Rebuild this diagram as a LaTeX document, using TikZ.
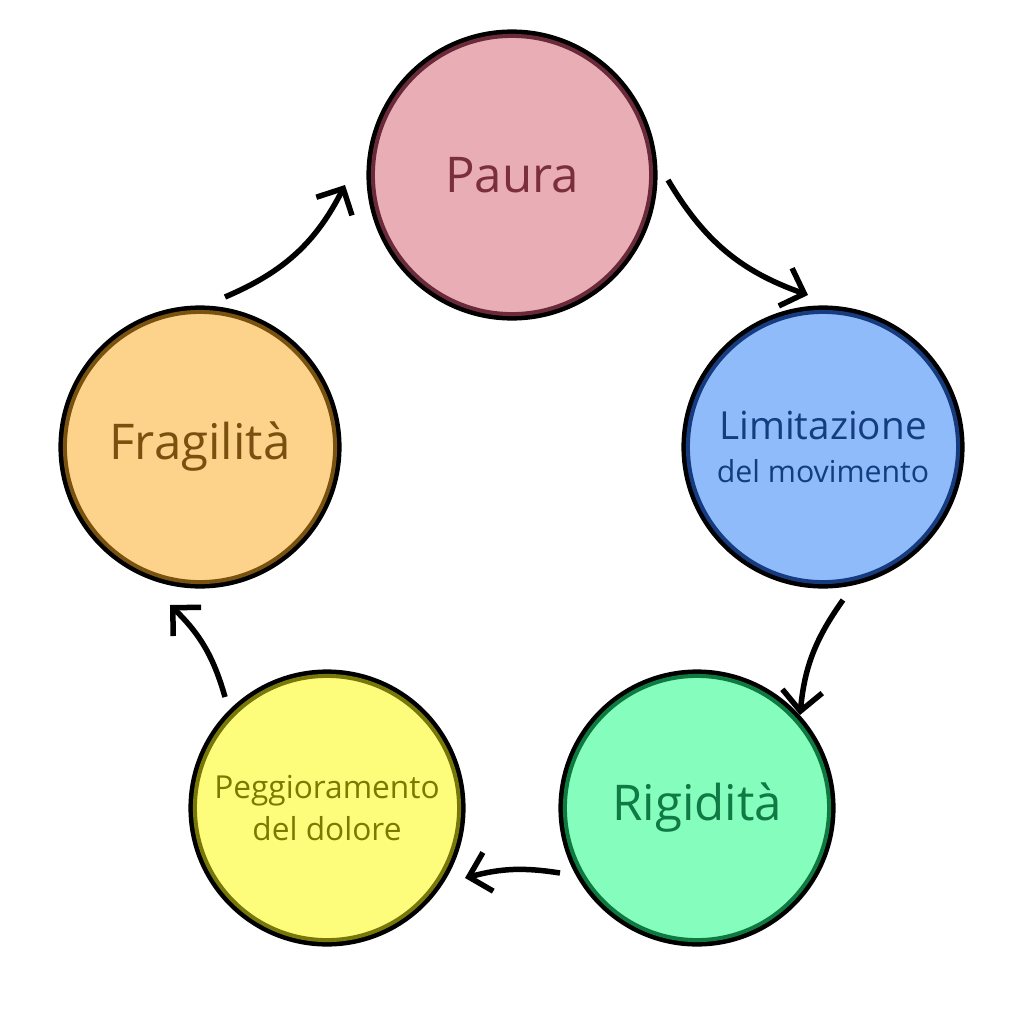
\documentclass[tikz,border=0pt]{standalone}
\usepackage{fontspec}
\setmainfont{Open Sans}
\usetikzlibrary{arrows.meta}
\begin{document}
\begin{tikzpicture}[x=0.01cm,y=-0.01cm,
  circ/.style={circle,minimum size=#1,inner sep=0pt,line width=0.045cm,align=center,
    double distance=0pt},
  arr/.style={line width=0.055cm,-{Straight Barb[length=0.2cm,width=0.4cm,line width=0.055cm]}}]
\useasboundingbox (0,0) rectangle (1024,1024);
\definecolor{pf}{HTML}{E9AEB5}\definecolor{pd}{HTML}{6B2A3A}\definecolor{pt}{HTML}{7A2E3E}
\definecolor{lf}{HTML}{8FBBFB}\definecolor{ld}{HTML}{163C7F}\definecolor{lt}{HTML}{143C80}
\definecolor{rf}{HTML}{84FDBD}\definecolor{rd}{HTML}{0E7A40}\definecolor{rt}{HTML}{107A44}
\definecolor{gf}{HTML}{FEFD7B}\definecolor{gd}{HTML}{77770A}\definecolor{gt}{HTML}{7A7A00}
\definecolor{ff}{HTML}{FDD38B}\definecolor{fd}{HTML}{7A5210}\definecolor{ft}{HTML}{7A5010}
\node[circle,minimum size=2.84cm,inner sep=0pt,fill=pf,draw=black,line width=0.07cm] (p) at (512,175) {};
\draw[pd,line width=0.04cm] (p.center) circle (1.39cm);
\node[text=pt,font=\fontsize{14}{16}\selectfont] at (p) {Paura};
\node[circle,minimum size=2.76cm,inner sep=0pt,fill=lf,draw=black,line width=0.07cm] (l) at (823,447) {};
\draw[ld,line width=0.04cm] (l.center) circle (1.35cm);
\node[text=lt,align=center,font=\fontsize{11}{14}\selectfont] at (l) {Limitazione\\[-2pt]{\fontsize{8.6}{12}\selectfont del movimento}};
\node[circle,minimum size=2.70cm,inner sep=0pt,fill=rf,draw=black,line width=0.07cm] (r) at (697,808) {};
\draw[rd,line width=0.04cm] (r.center) circle (1.32cm);
\node[text=rt,font=\fontsize{14}{16}\selectfont] at (r) {Rigidità};
\node[circle,minimum size=2.70cm,inner sep=0pt,fill=gf,draw=black,line width=0.07cm] (g) at (327,808) {};
\draw[gd,line width=0.04cm] (g.center) circle (1.32cm);
\node[text=gt,align=center,font=\fontsize{9}{12}\selectfont] at (g) {Peggioramento\\del dolore};
\node[circle,minimum size=2.76cm,inner sep=0pt,fill=ff,draw=black,line width=0.07cm] (f) at (200,447) {};
\draw[fd,line width=0.04cm] (f.center) circle (1.35cm);
\node[text=ft,font=\fontsize{14}{16}\selectfont] at (f) {Fragilità};
\coordinate (a1) at (668,180); \coordinate (b1) at (808,295);
\coordinate (a2) at (843,600); \coordinate (b2) at (800,715);
\coordinate (a3) at (560,873); \coordinate (b3) at (465,878);
\coordinate (a4) at (225,697); \coordinate (b4) at (170,605);
\coordinate (a5) at (225,297); \coordinate (b5) at (345,185);
\draw[arr] (a1) to[bend right=20] (b1);
\draw[arr] (a2) to[bend right=15] (b2);
\draw[arr] (a3) to[bend right=12] (b3);
\draw[arr] (a4) to[bend right=15] (b4);
\draw[arr] (a5) to[bend right=20] (b5);
\end{tikzpicture}
\end{document}
